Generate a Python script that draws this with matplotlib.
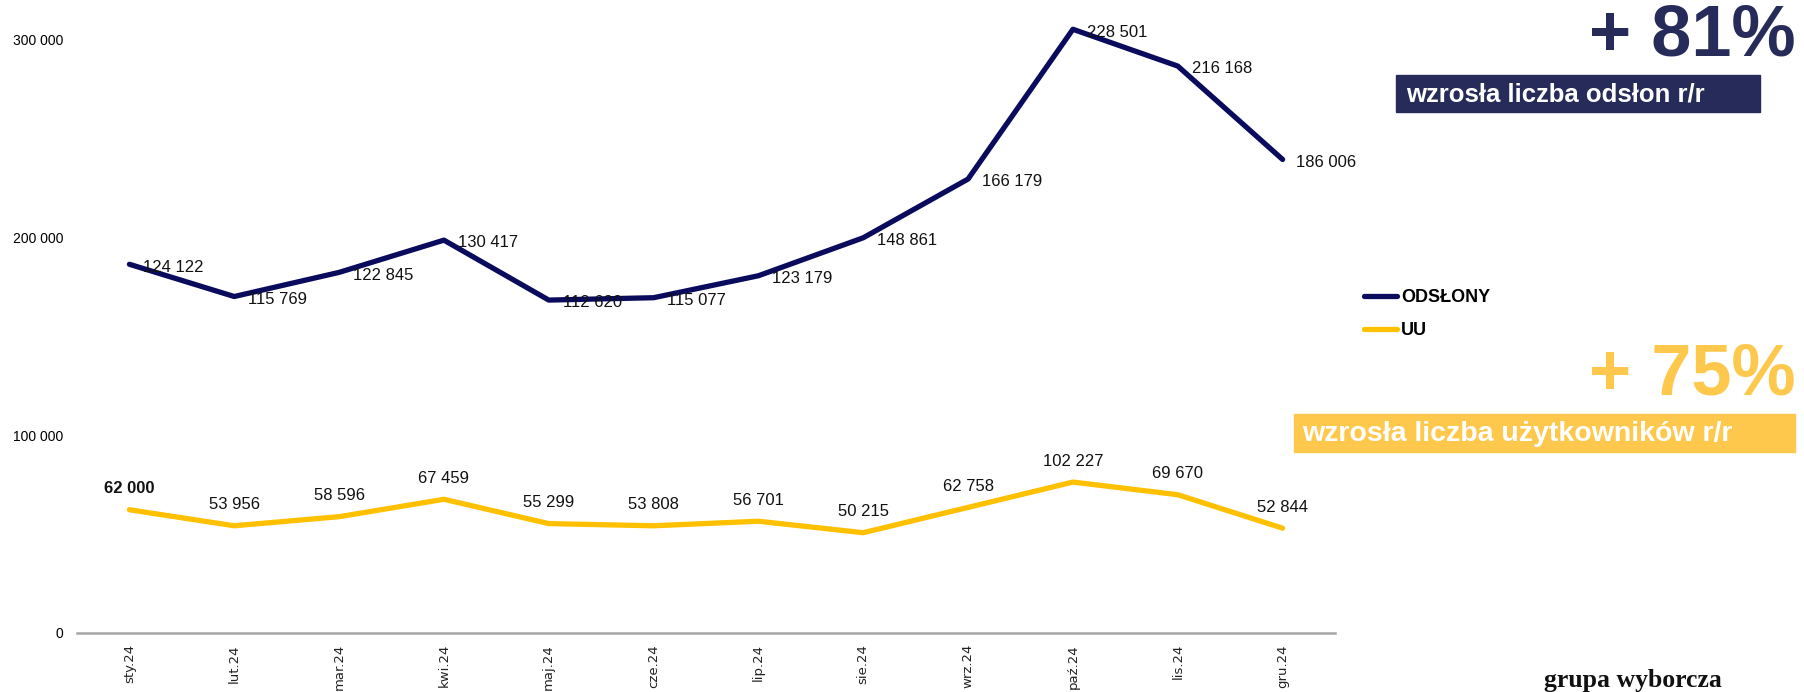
import matplotlib
matplotlib.use('Agg')
import matplotlib.pyplot as plt
from matplotlib import font_manager

# dane
miesiace = ['sty.24', 'lut.24', 'mar.24', 'kwi.24', 'maj.24', 'cze.24',
            'lip.24', 'sie.24', 'wrz.24', 'paź.24', 'lis.24', 'gru.24']
# wartosci tak jak narysowane na osi
odslony = [186400, 170100, 182300, 198600, 168300, 169500,
           180600, 199800, 229500, 305200, 286600, 239400]
uu = [62300, 54200, 58800, 67600, 55300, 54200,
      56500, 50700, 63500, 76300, 69900, 53000]
# etykiety danych (podpisy na wykresie)
odslony_etykiety = ['124 122', '115 769', '122 845', '130 417', '112 620', '115 077',
                    '123 179', '148 861', '166 179', '228 501', '216 168', '186 006']
uu_etykiety = ['62 000', '53 956', '58 596', '67 459', '55 299', '53 808',
               '56 701', '50 215', '62 758', '102 227', '69 670', '52 844']
y_ticki = [0, 100000, 200000, 300000]
y_ticki_txt = ['0', '100 000', '200 000', '300 000']

GRANAT = '#0B0B5E'
ZOLTY = '#FFC000'
GRANAT_BOX = '#262B5A'
ZOLTY_BOX = '#FEC84D'

# czcionka waska jesli jest
nazwy = {f.name for f in font_manager.fontManager.ttflist}
if 'Liberation Sans Narrow' in nazwy:
    waska = 'Liberation Sans Narrow'
    r_lab, r_tick = 14, 12
else:
    waska = 'Liberation Sans'
    r_lab, r_tick = 12, 10

fig = plt.figure(figsize=(18.04, 6.92), dpi=100)
ax = fig.add_axes([77 / 1804, 59 / 692, 1258 / 1804, 633 / 692])

x = list(range(len(miesiace)))
ax.plot(x, odslony, color=GRANAT, lw=3.8, label='ODSŁONY', solid_capstyle='round')
ax.plot(x, uu, color=ZOLTY, lw=3.8, label='UU', solid_capstyle='round')

for i in x:
    ax.annotate(odslony_etykiety[i], (i, odslony[i]), xytext=(10, -2),
                textcoords='offset points', ha='left', va='center',
                fontsize=r_lab, family=waska, color='#111111')
    ax.annotate(uu_etykiety[i], (i, uu[i]), xytext=(0, 15),
                textcoords='offset points', ha='center', va='center',
                fontsize=r_lab, family=waska, color='#111111',
                fontweight='bold' if i == 0 else 'normal')

ax.set_xlim(-0.5, 11.5)
ax.set_ylim(0, 320000)
ax.set_yticks(y_ticki)
ax.set_yticklabels(y_ticki_txt, family=waska, fontsize=r_tick)
ax.set_xticks(x)
ax.set_xticklabels(miesiace, rotation=90, family='DejaVu Sans', fontsize=9.5,
                   color='#222222')
ax.tick_params(axis='both', length=0)
ax.tick_params(axis='y', pad=10)
ax.tick_params(axis='x', pad=8)
for s in ['top', 'right', 'left']:
    ax.spines[s].set_visible(False)
ax.spines['bottom'].set_color('#A6A6A6')
ax.spines['bottom'].set_linewidth(1.8)

leg = ax.legend(loc='center left', bbox_to_anchor=(1348 / 1804, 1 - 314 / 692),
                bbox_transform=fig.transFigure, frameon=False, handlelength=1.8,
                handletextpad=0.25, labelspacing=0.9,
                prop={'family': 'Liberation Sans', 'weight': 'bold', 'size': 13})

# ramki po prawej
fig.text(1796 / 1804, 1 - 36 / 692, '+ 81%', ha='right', va='center',
         fontsize=52, fontweight='bold', color=GRANAT_BOX, family='Liberation Sans')
fig.patches.append(plt.Rectangle((1396 / 1804, 1 - 112 / 692), 364 / 1804, 37 / 692,
                                 transform=fig.transFigure, color=GRANAT_BOX))
fig.text(1406 / 1804, 1 - 94 / 692, 'wzrosła liczba odsłon r/r', ha='left', va='center',
         fontsize=18.5, fontweight='bold', color='white', family='Liberation Sans')

fig.text(1796 / 1804, 1 - 376 / 692, '+ 75%', ha='right', va='center',
         fontsize=52, fontweight='bold', color=ZOLTY_BOX, family='Liberation Sans')
fig.patches.append(plt.Rectangle((1294 / 1804, 1 - 452 / 692), 501 / 1804, 38 / 692,
                                 transform=fig.transFigure, color=ZOLTY_BOX))
fig.text(1302 / 1804, 1 - 434 / 692, 'wzrosła liczba użytkowników r/r', ha='left',
         va='center', fontsize=20.5, fontweight='bold', color='white',
         family='Liberation Sans')

fig.text(1633 / 1804, 1 - 680 / 692, 'grupa wyborcza', ha='center', va='center',
         fontsize=18.5, fontweight='bold', color='#111111', family='Liberation Serif')

fig.savefig('out.png', dpi=100)
